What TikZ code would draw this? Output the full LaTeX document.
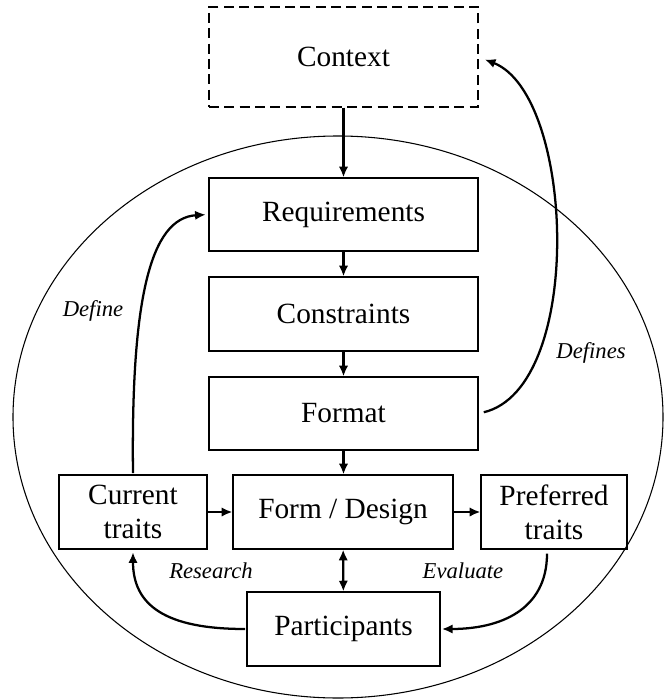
\documentclass[tikz,border=0pt]{standalone}
\usepackage{fontspec}
\setmainfont{Liberation Serif}
\usetikzlibrary{arrows.meta}

\tikzset{every picture/.style={line width=0.75pt}}
\tikzset{
  box/.style={draw, line width=0.9pt, inner sep=0pt, align=center, font=\fontsize{22}{25.5}\selectfont},
  flow/.style={line width=1.7pt, -{Latex[length=8pt,width=7pt]}},
  lbl/.style={inner sep=0.75pt, font=\fontsize{17}{20}\selectfont\itshape}
}

\begin{document}
\begin{tikzpicture}[x=0.75pt,y=0.75pt,yscale=-1,xscale=1]
\useasboundingbox (0,0) rectangle (664,699);
%Shape: Ellipse
\draw [line width=0.8pt] (338,417) ellipse [x radius=243.75pt, y radius=210.75pt];
%Shape: Rectangle
\draw (343.5,57) node [box, dash pattern=on 7.5pt off 4pt, minimum width=201.75pt, minimum height=75pt] (ctx) {Context};
%Shape: Rectangle
\draw (343.5,214.5) node [box, minimum width=201.75pt, minimum height=54.75pt] (req) {Requirements};
%Shape: Rectangle
\draw (343.5,314) node [box, minimum width=201.75pt, minimum height=55.5pt] (con) {Constraints};
%Shape: Rectangle
\draw (343.5,413.5) node [box, minimum width=201.75pt, minimum height=54.75pt] (fmt) {Format};
%Shape: Rectangle
\draw (343,512) node [box, minimum width=165pt, minimum height=55.5pt] (frm) {Form / Design};
%Shape: Rectangle
\draw (133,512) node [box, minimum width=111pt, minimum height=55.5pt] (cur) {Current\\traits};
%Shape: Rectangle
\draw (554,512) node [box, minimum width=109.5pt, minimum height=55.5pt] (prf) {Preferred\\traits};
%Shape: Rectangle
\draw (343.5,629) node [box, minimum width=144.75pt, minimum height=55.5pt] (par) {Participants};
%Straight Lines
\draw [flow] (ctx) -- (req);
\draw [flow] (req) -- (con);
\draw [flow] (con) -- (fmt);
\draw [flow] (fmt.south) -- (fmt.south |- frm.north);
\draw [flow] (cur) -- (frm);
\draw [flow] (frm) -- (prf);
\draw [flow, {Latex[length=8pt,width=7pt]}-{Latex[length=8pt,width=7pt]}] (frm) -- (par);
%Curve Lines
\draw [flow, shorten <=1pt, shorten >=2pt] (cur.north) .. controls (131,300) and (150,218) .. (req.west);
\draw [flow, shorten <=4pt, shorten >=5pt] (fmt.east) .. controls (585,388) and (575,95) .. (ctx.east);
\draw [flow, shorten <=1pt, shorten >=2pt] (par.west) .. controls (165,629) and (133,605) .. (cur.south);
\draw [flow, shorten <=3pt, shorten >=1pt] ([xshift=-5.25pt]prf.south) .. controls (547,610) and (500,629) .. (par.east);
% Text Node
\draw (93,311) node [lbl] (tdef) {Define};
% Text Node
\draw (591,353) node [lbl] (tdefs) {Defines};
% Text Node
\draw (211,571) node [lbl] (tres) {Research};
% Text Node
\draw (463,571) node [lbl] (teval) {Evaluate};
\end{tikzpicture}
\end{document}
